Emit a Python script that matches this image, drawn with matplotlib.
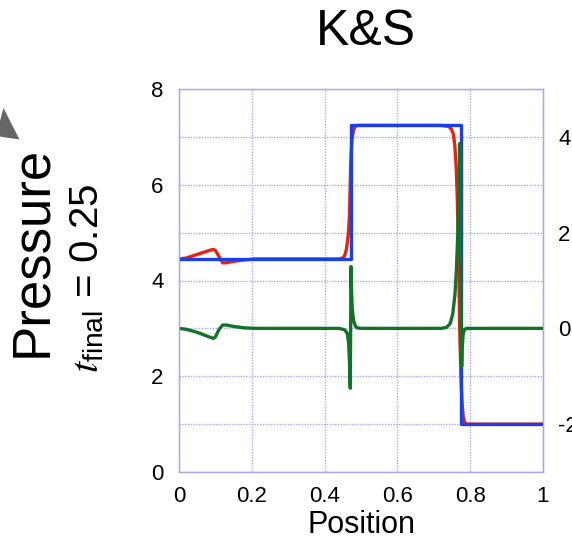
import numpy as np
import matplotlib
matplotlib.use("Agg")
import matplotlib.pyplot as plt
from matplotlib.patches import Polygon

plt.rcParams['font.family'] = ['Liberation Sans', 'DejaVu Sans']
plt.rcParams['mathtext.fontset'] = 'custom'
plt.rcParams['mathtext.rm'] = 'Liberation Sans'
plt.rcParams['mathtext.it'] = 'STIXGeneral:italic'
plt.rcParams['axes.unicode_minus'] = False

# exact solution (step profile)
exact_x = [0.0, 0.4717, 0.4717, 0.775, 0.775, 1.0]
exact_p = [4.45, 4.45, 7.24, 7.24, 1.0, 1.0]

# numerical solution
num_x = [0.0, 0.02, 0.04, 0.06, 0.08, 0.094, 0.10, 0.11, 0.12, 0.13, 0.15, 0.18, 0.21,
         0.30, 0.40, 0.44, 0.45, 0.455, 0.46, 0.465, 0.468, 0.470, 0.472, 0.475, 0.48,
         0.485, 0.49, 0.60, 0.72, 0.74, 0.748, 0.754, 0.758, 0.762, 0.765, 0.768, 0.770,
         0.772, 0.775, 0.778, 0.781, 0.785, 0.79, 1.0]
num_p = [4.45, 4.47, 4.52, 4.57, 4.62, 4.65, 4.63, 4.50, 4.37, 4.37, 4.40, 4.43, 4.45,
         4.45, 4.45, 4.45, 4.47, 4.52, 4.65, 4.95, 5.3, 5.9, 6.5, 6.95, 7.15,
         7.22, 7.24, 7.24, 7.24, 7.22, 7.17, 7.05, 6.8, 6.3, 5.6, 4.6, 3.6,
         2.7, 1.9, 1.4, 1.15, 1.03, 1.0, 1.0]

# error (right axis)
err_x = [0.0, 0.02, 0.04, 0.06, 0.08, 0.095, 0.10, 0.11, 0.12, 0.13, 0.15, 0.18, 0.21,
         0.40, 0.44, 0.455, 0.462, 0.466, 0.469, 0.4705, 0.4715, 0.4725, 0.474, 0.476,
         0.48, 0.485, 0.49, 0.50, 0.72, 0.735, 0.745, 0.752, 0.758, 0.762, 0.766, 0.769,
         0.7715, 0.7735, 0.7765, 0.778, 0.781, 0.785, 0.79, 1.0]
err_v = [0.0, -0.02, -0.06, -0.11, -0.17, -0.21, -0.18, -0.02, 0.07, 0.07, 0.04, 0.01, 0.0,
         0.0, 0.0, -0.03, -0.1, -0.3, -0.8, -1.25, 0.0, 1.29, 0.8, 0.4,
         0.15, 0.04, 0.01, 0.0, 0.0, 0.02, 0.1, 0.3, 0.7, 1.2, 2.0, 2.8,
         3.86, 1.5, -0.8, -0.4, -0.1, -0.02, 0.0, 0.0]

left_ticks = [0, 2, 4, 6, 8]
right_ticks = [-2, 0, 2, 4]
x_ticks = [0, 0.2, 0.4, 0.6, 0.8, 1]
x_labels = ['0', '0.2', '0.4', '0.6', '0.8', '1']

W, H = 572, 539
fig = plt.figure(figsize=(W / 100, H / 100), dpi=100)
ax = fig.add_axes([179 / W, 1 - 472 / H, 364 / W, 383 / H])

grid_col = '#a8a8f0'
ax.plot(num_x, num_p, color='#e8220f', lw=2.4, zorder=3)
ax.plot(exact_x, exact_p, color='#1c3ee6', lw=2.4, zorder=4)

ax.set_xlim(0, 1)
ax.set_ylim(0, 8)
ax.set_xticks(x_ticks)
ax.set_xticklabels(x_labels)
ax.set_yticks(left_ticks)
ax.set_yticks([1, 3, 5, 7], minor=True)
ax.grid(True, which='both', color=grid_col, lw=1.0, ls=(0, (1, 1)))
ax.tick_params(which='both', length=0, labelsize=16)
ax.tick_params(axis='y', pad=11)
ax.tick_params(axis='x', pad=10)
for s in ax.spines.values():
    s.set_color(grid_col)
    s.set_linewidth(1.0)
ax.set_xlabel('Position', fontsize=22, labelpad=2)

ax2 = ax.twinx()
ax2.plot(err_x, err_v, color='#117326', lw=2.4)
ax2.set_ylim(-3, 5)
ax2.set_yticks(right_ticks)
ax2.set_yticklabels([str(v) for v in right_ticks])
ax2.tick_params(length=0, labelsize=16, pad=11)
for s in ax2.spines.values():
    s.set_color(grid_col)

fig.text(366 / W, 1 - 32 / H, 'K&S', fontsize=36, ha='center', va='center')
fig.text(32 / W, 1 - 251 / H, 'Pressure', fontsize=38, rotation=90, ha='center', va='center')
fig.text(88 / W, 1 - 278 / H, r'$t_{\mathrm{final}}$ = 0.25', fontsize=29,
         rotation=90, ha='center', va='center')

tri = [(-4, 136), (3.5, 108), (19.5, 139.5)]
fig.patches.append(Polygon([(x / W, 1 - y / H) for x, y in tri], closed=True,
                           transform=fig.transFigure, facecolor='#666666', edgecolor='none'))

fig.savefig('out.png', dpi=100)
